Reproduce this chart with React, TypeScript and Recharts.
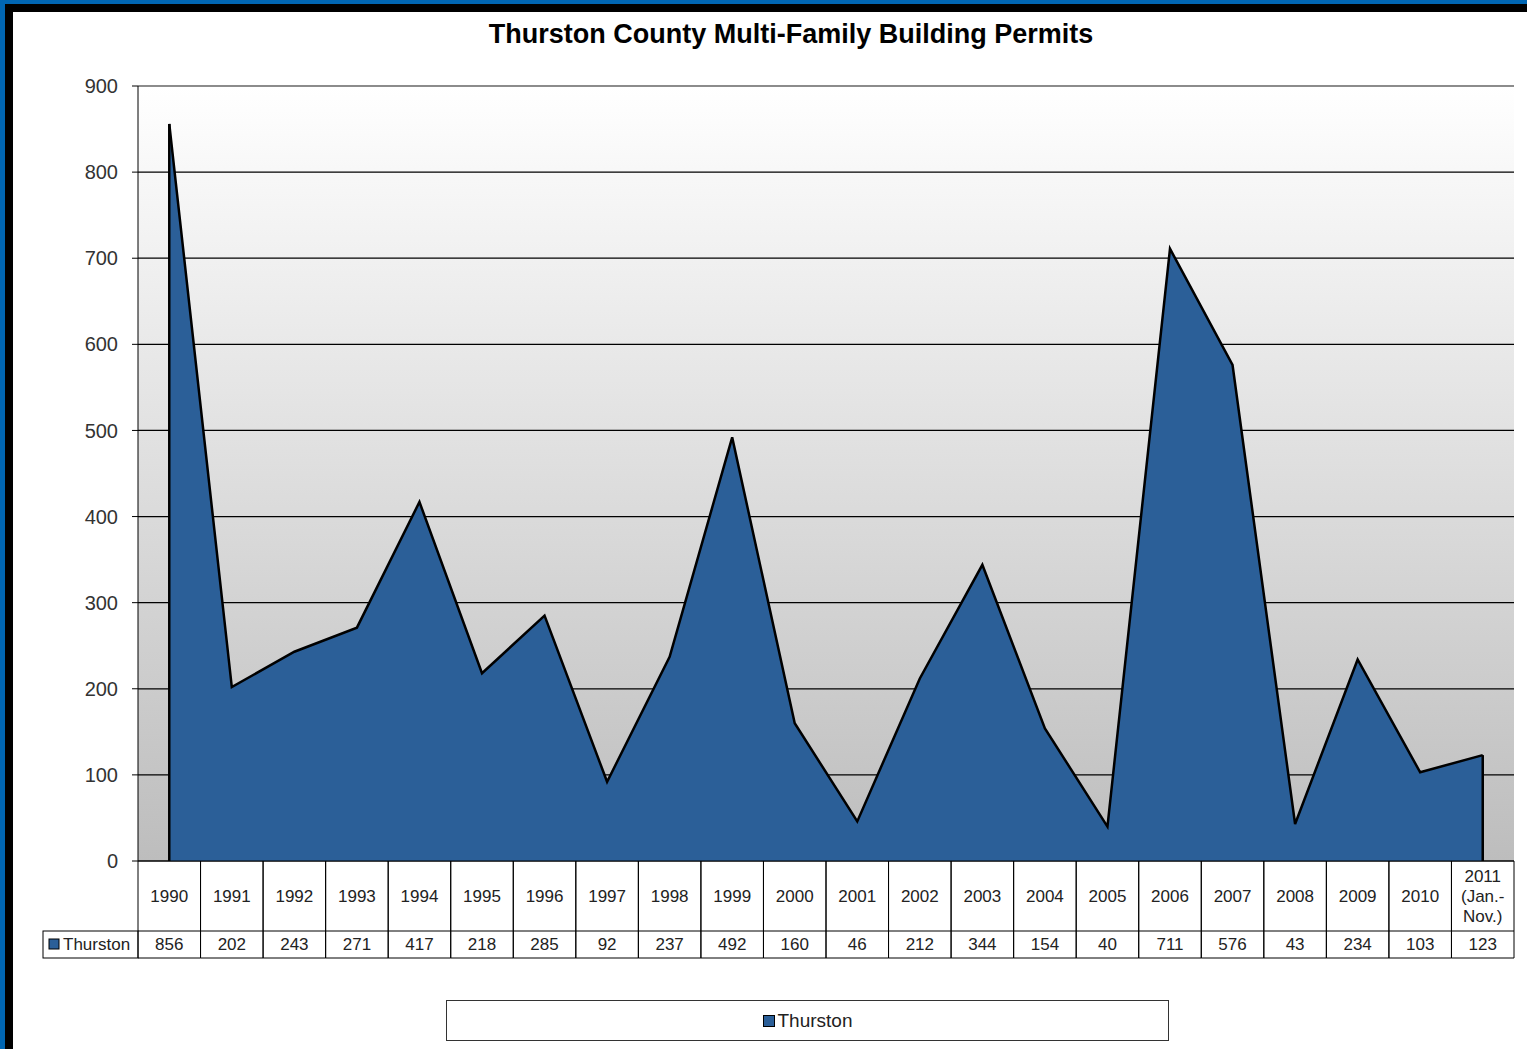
import React from 'react';
import { AreaChart, Area, XAxis, YAxis, CartesianGrid, Legend, ReferenceLine } from 'recharts';

const years = [
  '1990', '1991', '1992', '1993', '1994', '1995', '1996', '1997', '1998', '1999', '2000',
  '2001', '2002', '2003', '2004', '2005', '2006', '2007', '2008', '2009', '2010', '2011\n(Jan.-\nNov.)',
];
const thurston = [856, 202, 243, 271, 417, 218, 285, 92, 237, 492, 160, 46, 212, 344, 154, 40, 711, 576, 43, 234, 103, 123];
const yTicks = [0, 100, 200, 300, 400, 500, 600, 700, 800, 900];
const seriesName = 'Thurston';

const data = years.map((year, i) => ({ year, thurston: thurston[i] }));

const FILL = '#2B5F98';
const FONT = '"Liberation Sans", Arial, sans-serif';
const W = 1527;
const H = 1049;
const PLOT_LEFT = 138;
const PLOT_RIGHT = 1514;
const COL = (PLOT_RIGHT - PLOT_LEFT) / years.length;
const HEAD_ROW = 70;
const VAL_ROW = 27;

// draws one column of the data table under the plot
const TableTick = (props: any) => {
  const { x, y, payload, index } = props;
  const left = x - COL / 2;
  const right = x + COL / 2;
  const lines = String(payload.value).split('\n');
  const lh = 20;
  const startY = y + HEAD_ROW / 2 - ((lines.length - 1) * lh) / 2;
  return (
    <g>
      <line x1={left} y1={y} x2={left} y2={y + HEAD_ROW + VAL_ROW} stroke="#000" />
      <line x1={right} y1={y} x2={right} y2={y + HEAD_ROW + VAL_ROW} stroke="#000" />
      <line x1={left} y1={y + HEAD_ROW} x2={right} y2={y + HEAD_ROW} stroke="#000" />
      <line x1={left} y1={y + HEAD_ROW + VAL_ROW} x2={right} y2={y + HEAD_ROW + VAL_ROW} stroke="#000" />
      {lines.map((l, i) => (
        <text key={i} x={x} y={startY + i * lh} textAnchor="middle" dominantBaseline="central" fontSize={17} fill="#222" fontFamily={FONT}>
          {l}
        </text>
      ))}
      <text x={x} y={y + HEAD_ROW + VAL_ROW / 2} textAnchor="middle" dominantBaseline="central" fontSize={17} fill="#222" fontFamily={FONT}>
        {thurston[index]}
      </text>
      {index === 0 && (
        <g>
          <rect x={43} y={y + HEAD_ROW} width={left - 43} height={VAL_ROW} fill="none" stroke="#000" />
          <rect x={49} y={y + HEAD_ROW + 8} width={10} height={10} fill={FILL} stroke="#000" />
          <text x={63} y={y + HEAD_ROW + VAL_ROW / 2} dominantBaseline="central" fontSize={17} fill="#222" fontFamily={FONT}>
            {seriesName}
          </text>
        </g>
      )}
    </g>
  );
};

const LegendBox = () => (
  <div
    style={{
      width: 721,
      height: 39,
      border: '1px solid #333',
      background: '#fff',
      display: 'flex',
      alignItems: 'center',
      justifyContent: 'center',
      fontFamily: FONT,
      fontSize: 19,
      color: '#222',
      boxSizing: 'content-box',
    }}
  >
    <span style={{ display: 'inline-block', width: 10, height: 10, background: FILL, border: '1px solid #000', marginRight: 3 }} />
    {seriesName}
  </div>
);

const App: React.FC = () => {
  return (
    <div style={{ position: 'fixed', left: 0, top: 0, width: W, height: H, background: '#fff', overflow: 'hidden' }}>
      <div style={{ position: 'absolute', left: 0, top: 0, width: W, height: 4, background: '#0066B3' }} />
      <div style={{ position: 'absolute', left: 0, top: 0, width: 5, height: H, background: '#0066B3' }} />
      <div style={{ position: 'absolute', left: 5, top: 4, width: W, height: 8, background: '#000' }} />
      <div style={{ position: 'absolute', left: 5, top: 4, width: 8, height: H, background: '#000' }} />
      <div
        style={{
          position: 'absolute',
          left: 791,
          top: 34,
          transform: 'translate(-50%, -50%)',
          fontFamily: FONT,
          fontWeight: 'bold',
          fontSize: 27,
          color: '#000',
          whiteSpace: 'nowrap',
        }}
      >
        Thurston County Multi-Family Building Permits
      </div>
      <div style={{ position: 'absolute', left: 0, top: 0 }}>
        <AreaChart width={W} height={H} data={data} margin={{ top: 86, right: W - PLOT_RIGHT, left: PLOT_LEFT - 60, bottom: H - 861 - 100 }}>
          <defs>
            <linearGradient id="plotBg" x1="0" y1="0" x2="0" y2="1">
              <stop offset="0%" stopColor="#FFFFFF" />
              <stop offset="100%" stopColor="#BDBDBD" />
            </linearGradient>
          </defs>
          <CartesianGrid vertical={false} stroke="#000" strokeWidth={1.2} fill="url(#plotBg)" yAxisId="left" />
          <XAxis
            dataKey="year"
            interval={0}
            padding={{ left: COL / 2, right: COL / 2 }}
            tickLine={false}
            tickSize={0}
            tickMargin={0}
            axisLine={{ stroke: '#000' }}
            height={100}
            tick={<TableTick />}
          />
          <YAxis
            yAxisId="left"
            width={60}
            domain={[0, 900]}
            ticks={yTicks}
            interval={0}
            axisLine={{ stroke: '#000' }}
            tickLine={{ stroke: '#000' }}
            tickSize={6}
            tickMargin={14}
            tick={{ fontSize: 20, fill: '#333', fontFamily: FONT }}
          />
          <YAxis yAxisId="right" orientation="right" width={0} domain={[0, 900]} tick={false} tickLine={false} axisLine={{ stroke: '#999' }} />
          <ReferenceLine yAxisId="left" y={900} stroke="#999" />
          <Area
            yAxisId="left"
            type="linear"
            dataKey="thurston"
            name={seriesName}
            fill={FILL}
            fillOpacity={1}
            stroke="#000"
            strokeWidth={2.5}
            isAnimationActive={false}
          />
          <ReferenceLine
            yAxisId="left"
            segment={[{ x: years[0], y: 0 }, { x: years[0], y: thurston[0] }]}
            stroke="#000"
            strokeWidth={2.5}
          />
          <ReferenceLine
            yAxisId="left"
            segment={[{ x: years[years.length - 1], y: 0 }, { x: years[years.length - 1], y: thurston[thurston.length - 1] }]}
            stroke="#000"
            strokeWidth={2.5}
          />
          <Legend
            layout="horizontal"
            verticalAlign="middle"
            align="center"
            wrapperStyle={{ left: 446, top: 1000, width: 723, height: 41 }}
            content={() => <LegendBox />}
          />
        </AreaChart>
      </div>
    </div>
  );
};

export default App;
